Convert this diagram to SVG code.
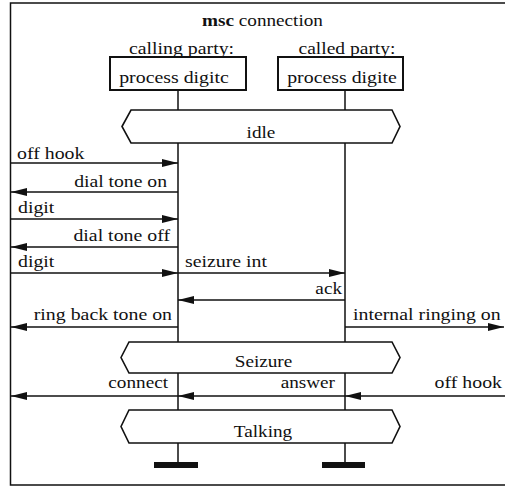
<svg xmlns="http://www.w3.org/2000/svg" width="505" height="486" viewBox="0 0 505 486">
  <defs>
    <style>
      text { font-family: 'Liberation Serif', 'Times New Roman', serif; font-size: 16px; fill: #111; }
      .mid { text-anchor: middle; }
      .end { text-anchor: end; }
      .ln { stroke: #111; stroke-width: 1.5; fill: none; }
      .box { stroke: #111; stroke-width: 2; fill: #fff; }
      .cond { stroke: #111; stroke-width: 1.6; fill: #fff; }
      .msg { stroke: #111; stroke-width: 1.5; fill: none; marker-end: url(#head); }
      .stop { fill: #111; }
    </style>
    <marker id="head" viewBox="0 0 16 8" refX="16" refY="4" markerWidth="16" markerHeight="8" markerUnits="userSpaceOnUse" orient="auto">
      <path d="M0,0 L16,4 L0,8 Z" fill="#111"/>
    </marker>
  </defs>

  <rect width="505" height="486" fill="#fff"/>

  <!-- chart frame (open on the right); text uses a 1.22 horizontal stretch -->
  <g id="frame">
    <path class="ln" d="M505,3 H10.5 V485 H505"/>
    <text class="mid" transform="matrix(1.2 0 0 1 262.5 26)"><tspan font-weight="bold">msc</tspan> connection</text>
  </g>

  <!-- lifelines -->
  <g id="lifelines">
    <path class="ln" d="M178,90 V110 M178,143 V342 M178,373 V410 M178,443 V462"/>
    <path class="ln" d="M345,90 V110 M345,143 V342 M345,373 V410 M345,443 V462"/>
  </g>

  <!-- instance heads -->
  <g id="calling-party">
    <text class="mid" transform="matrix(1.24 0 0 1 181.5 54)">calling party:</text>
    <rect class="box" x="110" y="57" width="136" height="33"/>
    <text class="mid" transform="matrix(1.24 0 0 1 174 83)">process digitc</text>
    <rect class="stop" x="154" y="462" width="44" height="6"/>
  </g>
  <g id="called-party">
    <text class="mid" transform="matrix(1.22 0 0 1 347 54)">called party:</text>
    <rect class="box" x="278" y="57" width="125" height="33"/>
    <text class="mid" transform="matrix(1.24 0 0 1 342 83)">process digite</text>
    <rect class="stop" x="322" y="462" width="43" height="6"/>
  </g>

  <!-- conditions -->
  <g id="cond-idle">
    <path class="cond" d="M122,126.5 L131,110 H392 L400,126.5 L392,143 H131 Z"/>
    <text class="mid" transform="matrix(1.2 0 0 1 261 138)">idle</text>
  </g>
  <g id="cond-seizure">
    <path class="cond" d="M121,357.5 L129,342 H392 L400,357.5 L392,373 H129 Z"/>
    <text class="mid" transform="matrix(1.2 0 0 1 263.5 367)">Seizure</text>
  </g>
  <g id="cond-talking">
    <path class="cond" d="M121,426.5 L129,410 H392 L400,426.5 L392,443 H129 Z"/>
    <text class="mid" transform="matrix(1.2 0 0 1 263 437)">Talking</text>
  </g>

  <!-- messages -->
  <g id="connectors">
    <path class="msg" d="M11,163 H178"/>
    <path class="msg" d="M178,192 H11"/>
    <path class="msg" d="M11,219 H178"/>
    <path class="msg" d="M178,247 H11"/>
    <path class="msg" d="M11,273 H178"/>
    <path class="msg" d="M178,273 H345"/>
    <path class="msg" d="M345,300 H178"/>
    <path class="msg" d="M178,327 H11"/>
    <path class="msg" d="M345,327 H504"/>
    <path class="msg" d="M178,396 H11"/>
    <path class="msg" d="M345,396 H178"/>
    <path class="msg" d="M505,396 H345"/>
  </g>

  <!-- message labels -->
  <g id="labels">
    <text transform="matrix(1.24 0 0 1 17 159)">off hook</text>
    <text class="end" transform="matrix(1.23 0 0 1 167 187)">dial tone on</text>
    <text transform="matrix(1.24 0 0 1 18 213)">digit</text>
    <text class="end" transform="matrix(1.24 0 0 1 170 241)">dial tone off</text>
    <text transform="matrix(1.24 0 0 1 18 267)">digit</text>
    <text transform="matrix(1.24 0 0 1 185 267)">seizure int</text>
    <text class="end" transform="matrix(1.2 0 0 1 342 294)">ack</text>
    <text class="end" transform="matrix(1.24 0 0 1 172 320)">ring back tone on</text>
    <text transform="matrix(1.24 0 0 1 353 320)">internal ringing on</text>
    <text class="end" transform="matrix(1.2 0 0 1 168 388)">connect</text>
    <text class="end" transform="matrix(1.2 0 0 1 335 388)">answer</text>
    <text class="end" transform="matrix(1.24 0 0 1 502 388)">off hook</text>
  </g>
</svg>
